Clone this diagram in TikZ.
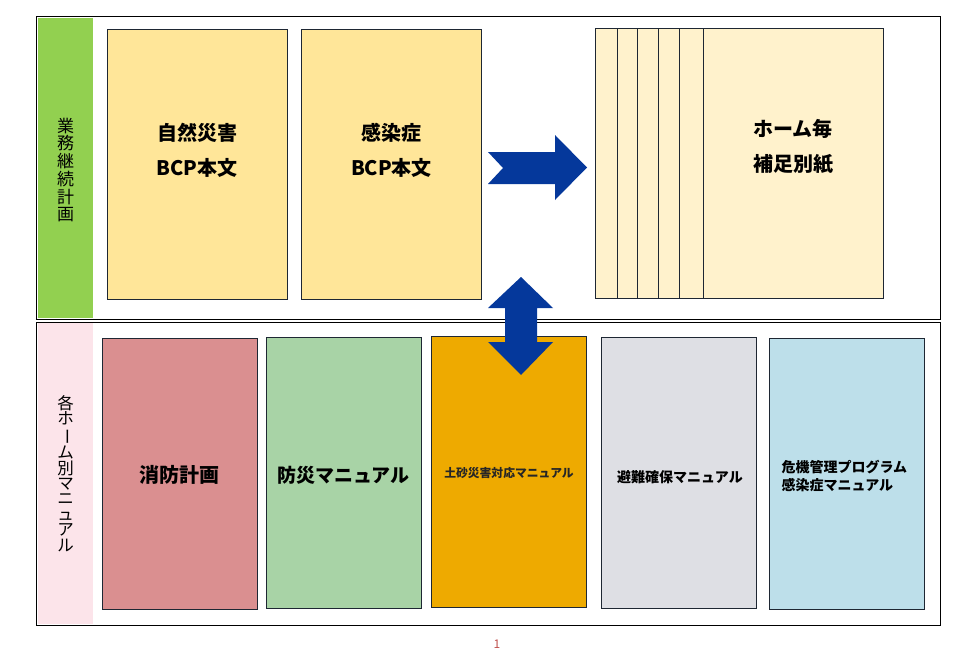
\documentclass[tikz,border=0pt]{standalone}
\usepackage{fontspec}
\setmainfont{Noto Sans CJK JP}
\usetikzlibrary{positioning}

\definecolor{sidegreen}{HTML}{92D050}
\definecolor{sidepink}{HTML}{FCE4EA}
\definecolor{bcpgold}{HTML}{FFE699}
\definecolor{sheetcream}{HTML}{FFF2CC}
\definecolor{arrowblue}{HTML}{05389B}
\definecolor{edgenavy}{HTML}{1E2733}
\definecolor{firered}{HTML}{DA8F90}
\definecolor{saigreen}{HTML}{A8D3A6}
\definecolor{dosyaamber}{HTML}{EEAA00}
\definecolor{hinangray}{HTML}{DEDFE4}
\definecolor{kikiblue}{HTML}{BDDFEA}
\definecolor{pagered}{HTML}{C0504D}

\newcommand{\tatebar}{\rotatebox[origin=c]{-90}{ー}}

\begin{document}
\begin{tikzpicture}[x=1pt,y=-1pt,
    doc/.style={rectangle,draw=edgenavy,line width=0.8pt,inner sep=0pt},
    title/.style={align=center,font=\bfseries\fontsize{20}{35}\selectfont},
    small/.style={align=center,font=\bfseries\fontsize{14}{18}\selectfont}]
            \fill[white] (0,0) rectangle (960,650);
            \useasboundingbox (0,0) rectangle (960,650);

            % frames and side bars
            \draw[line width=0.8pt] (36,16) rectangle (940,319);
            \draw[line width=0.8pt] (36,322) rectangle (940,625);
            \node[fill=sidegreen,minimum width=55pt,minimum height=300pt,inner sep=0pt] (bcpbar) at (65.5,168) {};
            \node[fill=sidepink,minimum width=55pt,minimum height=301pt,inner sep=0pt] (manbar) at (65.5,473.5) {};
            \node[align=center,font=\fontsize{17}{17.7}\selectfont] at (65.5,170) {業\\務\\継\\続\\計\\画};
            \node[align=center,font=\fontsize{16.5}{15.4}\selectfont] at (65.5,473.5) {各\\ホ\\\tatebar\\ム\\別\\マ\\ニ\\ュ\\ア\\ル};

            \begin{scope}[every node/.style={doc,fill=bcpgold,minimum width=180pt,minimum height=270pt}]
                \node (shizen) at (197,164) {};
                \node (kansen) at (391.5,164) {};
            \end{scope}
            \node[title] at (197,150) {自然災害\\BCP本文};
            \node[title] at (391.5,150) {感染症\\BCP本文};

            % stacked sheets
            \foreach \x in {595,617,637,658,679,703}
                \draw[doc,fill=sheetcream] (\x,28) rectangle (883,298);
            \node[title] (hosoku) at (793,146.5) {ホーム毎\\補足別紙};

            \begin{scope}[every node/.style={doc,minimum width=155pt,minimum height=271pt}]
                \node[fill=firered] (shobo) at (179.5,473.5) {};
                \node[fill=saigreen] (bosai) at (343.5,473) {};
                \node[fill=dosyaamber] (dosha) at (509,471.5) {};
                \node[fill=hinangray] (hinan) at (678.5,473) {};
                \node[fill=kikiblue] (kiki) at (846.5,473.5) {};
            \end{scope}
            \node[title] at (179.5,475) {消防計画};
            \node[title,font=\bfseries\fontsize{19}{24}\selectfont] at (343.5,475) {防災マニュアル};
            \node[font=\bfseries\fontsize{11.8}{14}\selectfont,text=black!85] at (509,473) {土砂災害対応マニュアル};
            \node[small] at (680,477) {避難確保マニュアル};
            \node[small,align=left,anchor=west] at (778,476) {危機管理プログラム\\感染症マニュアル};

            % block arrows
            \fill[arrowblue] (488,152) -- (555,152) -- (555,135) -- (587,167.5)
                -- (555,200) -- (555,184) -- (488,184) -- (503,168) -- cycle;
            \fill[arrowblue] (521,277) -- (553,308) -- (537,308) -- (537,342) -- (553,342)
                -- (521,375) -- (488,342) -- (505,342) -- (505,308) -- (488,308) -- cycle;

            \node[text=pagered,font=\fontsize{12}{14}\selectfont] (page) at (497,644) {1};
            \end{tikzpicture}
\end{document}
